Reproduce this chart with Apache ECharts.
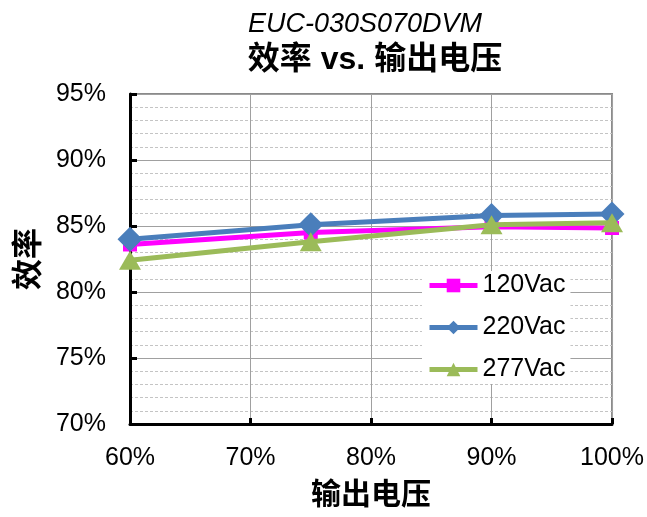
<!DOCTYPE html>
<html><head><meta charset="utf-8">
<script src="https://cdn.jsdelivr.net/npm/echarts@6/dist/echarts.min.js"></script>
<style>html,body{margin:0;padding:0;background:#fff}#c{width:647px;height:517px}</style>
</head><body><div id="c"></div>
<script>
var outputVoltage = [60, 75, 90, 100];
var eff120 = [83.6, 84.5, 84.95, 84.85];
var eff220 = [84.0, 85.1, 85.8, 85.9];
var eff277 = [82.4, 83.8, 85.1, 85.25];
var seriesNames = ['120Vac', '220Vac', '277Vac'];
var titleText = 'EUC-030S070DVM';
var subTitleText = '效率 vs. 输出电压';
var xName = '输出电压';
var yName = '效率';

function pairs(ys){ return outputVoltage.map(function(x,i){ return [x, ys[i]]; }); }
var F = '"Liberation Sans", Arial, "Noto Sans CJK SC", sans-serif';
var chart = echarts.init(document.getElementById('c'));
chart.setOption({
  animation: false,
  backgroundColor: '#fff',
  title: [
    {text: titleText, left: 360, top: 6, textAlign: 'center',
     textStyle: {fontFamily: F, fontStyle: 'italic', fontWeight: 'normal', fontSize: 27, color: '#000'}},
    {text: subTitleText, left: 370, top: 39, textAlign: 'center',
     textStyle: {fontFamily: '"Liberation Sans", "Noto Sans CJK SC", sans-serif', fontWeight: 'bold', fontSize: 32, color: '#000'}}
  ],
  grid: {left: 130, right: 34, top: 94, bottom: 93, show: true, borderColor: '#8a8a8a', borderWidth: 2, containLabel: false},
  legend: {
    orient: 'vertical', left: 422, top: 271, backgroundColor: '#fff', padding: [2, 5],
    itemWidth: 48, itemHeight: 17, itemGap: 17,
    data: seriesNames,
    lineStyle: {width: 5},
    textStyle: {fontFamily: F, fontSize: 25, color: '#000'}
  },
  xAxis: {
    type: 'value', min: 60, max: 100, interval: 10,
    name: xName, nameLocation: 'middle', nameGap: 54,
    nameTextStyle: {fontFamily: '"Noto Sans CJK SC", sans-serif', fontWeight: 'bold', fontSize: 30, color: '#000'},
    axisLine: {show: true, lineStyle: {color: '#000', width: 3}},
    axisTick: {show: true, inside: true, length: 6, lineStyle: {color: '#000', width: 3}},
    axisLabel: {formatter: '{value}%', fontFamily: F, fontSize: 25, color: '#000', margin: 22},
    splitLine: {show: true, lineStyle: {color: '#a0a0a0', width: 1}}
  },
  yAxis: {
    type: 'value', min: 70, max: 95, interval: 5,
    name: yName, nameLocation: 'middle', nameGap: 88, nameRotate: 90,
    nameTextStyle: {fontFamily: '"Noto Sans CJK SC", sans-serif', fontWeight: 'bold', fontSize: 31, color: '#000'},
    axisLine: {show: true, lineStyle: {color: '#000', width: 3}},
    axisTick: {show: true, inside: true, length: 7, lineStyle: {color: '#000', width: 3}},
    axisLabel: {formatter: '{value}%', fontFamily: F, fontSize: 25, color: '#000', margin: 24},
    splitLine: {show: true, lineStyle: {color: '#a0a0a0', width: 1}},
    minorTick: {show: false, splitNumber: 5},
    minorSplitLine: {show: true, lineStyle: {color: '#c4c4c4', width: 1, type: [3, 2]}}
  },
  series: [
    {name: seriesNames[0], type: 'line', data: pairs(eff120), symbol: 'rect', symbolSize: 14,
     itemStyle: {color: '#FF00FF'}, lineStyle: {color: '#FF00FF', width: 5}, z: 2},
    {name: seriesNames[1], type: 'line', data: pairs(eff220), symbol: 'diamond', symbolSize: 25,
     itemStyle: {color: '#4A7EBB'}, lineStyle: {color: '#4A7EBB', width: 5}, z: 3},
    {name: seriesNames[2], type: 'line', data: pairs(eff277), symbol: 'triangle', symbolSize: [22, 19],
     itemStyle: {color: '#9BBB59'}, lineStyle: {color: '#9BBB59', width: 5}, z: 4}
  ]
});
</script></body></html>
